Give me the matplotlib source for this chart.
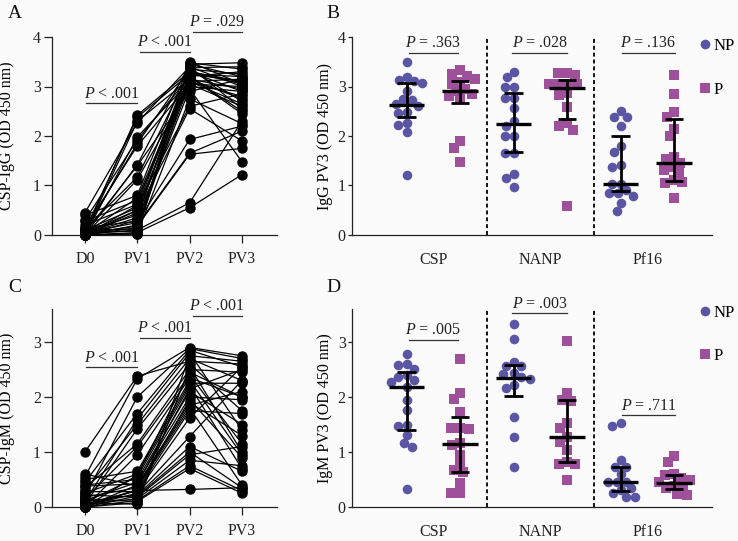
import numpy as np
import matplotlib
matplotlib.use("Agg")
import matplotlib.pyplot as plt
from matplotlib.lines import Line2D

plt.rcParams["font.family"] = ["Liberation Serif", "DejaVu Serif"]
plt.rcParams["mathtext.fontset"] = "custom"
plt.rcParams["mathtext.rm"] = "Liberation Serif"
plt.rcParams["mathtext.it"] = "Liberation Serif:italic"

BG = "#fbfbfc"
NP_COL = "#5a56a4"
P_COL = "#9e519a"

timepoints = ["D0", "PV1", "PV2", "PV3"]
antigens = ["CSP", "NANP", "Pf16"]

# panel A: CSP-IgG per subject
igg_d0 = [0.05, 0.10, 0.02, 0.45, 0.00, 0.30, 0.08, 0.15, 0.00, 0.05, 0.12, 0.00,
          0.40, 0.03, 0.28, 0.00, 0.10, 0.05, 0.00, 0.08, 0.02, 0.00, 0.15, 0.05,
          0.00, 0.03, 0.00, 0.10, 0.02, 0.00, 0.05, 0.00, 0.00, 0.20, 0.00]
igg_pv1 = [2.42, 2.38, 2.30, 2.27, 1.98, 1.92, 1.85, 1.80, 1.42, 1.40, 1.17, 1.12,
           0.80, 0.75, 0.70, 0.60, 0.55, 0.50, 0.45, 0.40, 0.35, 0.30, 0.28, 0.25,
           0.20, 0.18, 0.15, 0.12, 0.10, 0.05, 0.08, 0.03, 0.50, 0.62, 0.02]
igg_pv2 = [3.30, 3.25, 3.15, 3.40, 3.10, 3.20, 3.35, 3.05, 3.45, 2.90, 3.30, 3.00,
           3.48, 3.20, 3.10, 2.60, 3.35, 3.15, 2.55, 3.25, 3.40, 3.05, 2.95, 1.93,
           1.65, 1.63, 3.30, 3.45, 0.65, 0.55, 3.20, 2.75, 3.10, 3.38, 3.50]
igg_pv3 = [3.10, 3.20, 2.95, 3.00, 2.80, 3.30, 2.70, 2.60, 3.48, 3.15, 3.05, 2.90,
           3.35, 2.50, 2.65, 2.85, 3.25, 2.75, 1.90, 3.10, 2.55, 3.00, 1.48, 2.20,
           2.10, 1.75, 2.90, 3.20, 2.30, 1.22, 2.45, 2.25, 3.15, 3.40, 3.05]

# panel C: CSP-IgM per subject
igm_d0 = [1.00, 0.55, 0.20, 0.45, 0.10, 0.30, 0.05, 0.35, 0.15, 0.00, 0.50, 0.25,
          0.08, 0.40, 0.12, 0.00, 0.60, 0.18, 0.05, 0.28, 0.02, 0.10, 0.00, 0.22,
          0.05, 0.00, 0.15, 0.03, 0.00, 0.08, 0.00, 0.38, 0.00]
igm_pv1 = [2.38, 2.33, 2.00, 1.70, 1.60, 1.50, 1.42, 1.15, 1.10, 0.95, 0.65, 0.60,
           0.55, 0.50, 0.45, 0.40, 0.38, 0.35, 0.30, 0.28, 0.25, 0.22, 0.20, 0.18,
           0.15, 0.12, 0.10, 0.30, 0.08, 0.05, 0.58, 0.42, 0.32]
igm_pv2 = [2.65, 2.90, 2.88, 2.85, 2.80, 2.70, 2.60, 2.50, 2.40, 2.35, 2.30, 2.25,
           2.20, 2.10, 2.00, 1.90, 1.85, 1.80, 1.75, 1.62, 1.28, 1.10, 1.00, 0.95,
           0.85, 0.75, 0.70, 0.32, 2.75, 2.55, 2.45, 2.15, 1.95]
igm_pv3 = [2.60, 2.75, 2.70, 2.55, 1.40, 2.30, 1.75, 2.45, 1.15, 2.00, 0.95, 2.25,
           0.70, 1.50, 1.95, 1.30, 2.10, 0.40, 1.70, 2.55, 2.30, 0.65, 0.35, 1.10,
           0.75, 0.30, 0.25, 0.35, 2.65, 1.00, 2.00, 2.50, 0.90]

# panel B: IgG PV3 by antigen, NP vs P
igg_np = [
    [3.49, 3.20, 3.13, 3.11, 3.08, 2.90, 2.74, 2.73, 2.65, 2.60, 2.49, 2.46, 2.27, 2.22, 2.09, 1.21],
    [3.30, 3.19, 2.98, 2.98, 2.76, 2.76, 2.56, 2.30, 2.20, 1.99, 1.99, 1.65, 1.65, 1.23, 1.15, 0.96],
    [2.51, 2.39, 2.39, 2.20, 1.80, 1.68, 1.41, 1.38, 1.04, 1.04, 0.91, 0.85, 0.85, 0.79, 0.64, 0.48],
]
igg_p = [
    [3.33, 3.25, 3.22, 3.15, 3.10, 3.05, 2.95, 2.90, 2.85, 2.80, 2.74, 1.89, 1.76, 1.47],
    [3.27, 3.27, 3.23, 3.06, 3.06, 3.06, 3.06, 2.86, 2.83, 2.59, 2.26, 2.20, 2.12, 0.59],
    [3.23, 2.84, 2.48, 2.39, 2.15, 2.00, 1.57, 1.54, 1.45, 1.37, 1.31, 1.25, 1.11, 1.08, 1.06, 0.74],
]
igg_med = [2.63, 2.90, 2.24, 2.96, 1.04, 1.45]
igg_q1 = [2.38, 2.67, 1.67, 2.34, 0.89, 1.10]
igg_q3 = [3.08, 3.11, 2.86, 3.14, 2.00, 2.34]

# panel D: IgM PV3 by antigen, NP vs P
igm_np = [
    [2.79, 2.60, 2.58, 2.51, 2.40, 2.37, 2.31, 2.28, 2.18, 1.95, 1.76, 1.49, 1.47, 1.31, 1.16, 1.10, 0.32],
    [3.33, 3.05, 2.63, 2.57, 2.57, 2.44, 2.42, 2.37, 2.32, 2.22, 2.16, 1.64, 1.28, 0.73],
    [1.53, 1.48, 0.85, 0.73, 0.73, 0.60, 0.46, 0.46, 0.46, 0.34, 0.31, 0.25, 0.19, 0.19],
]
igm_p = [
    [2.70, 2.08, 1.96, 1.73, 1.43, 1.43, 1.41, 1.16, 1.13, 0.95, 0.79, 0.67, 0.64, 0.43, 0.25, 0.25],
    [3.02, 2.08, 1.95, 1.93, 1.53, 1.44, 1.27, 1.19, 1.04, 0.82, 0.79, 0.79, 0.49],
    [0.93, 0.81, 0.60, 0.58, 0.52, 0.49, 0.46, 0.38, 0.36, 0.34, 0.23, 0.22],
]
igm_med = [2.18, 1.14, 2.35, 1.28, 0.46, 0.44]
igm_q1 = [1.40, 0.64, 2.02, 0.81, 0.30, 0.32]
igm_q3 = [2.45, 1.64, 2.58, 1.95, 0.73, 0.58]

# p-value annotations: (x0, x1, y, text)
sig_a = [(0.02, 1.0, 2.66, "< .001"), (1.05, 2.0, 3.70, "< .001"), (2.06, 3.0, 4.11, "= .029")]
sig_c = [(0.02, 1.0, 2.54, "< .001"), (1.05, 2.0, 3.07, "< .001"), (2.06, 3.0, 3.47, "< .001")]
sig_b = [(0.04, 0.97, 3.68, "= .363"), (1.98, 3.0, 3.68, "= .028"), (4.03, 5.02, 3.68, "= .136")]
sig_d = [(0.04, 0.97, 3.04, "= .005"), (1.98, 3.0, 3.52, "= .003"), (4.03, 5.02, 1.67, "= .711")]

FS = 11.5


def style(ax):
    ax.set_facecolor(BG)
    for s in ["top", "right"]:
        ax.spines[s].set_visible(False)
    for s in ["left", "bottom"]:
        ax.spines[s].set_linewidth(0.9)
        ax.spines[s].set_color("#222222")
    ax.tick_params(labelsize=FS, width=0.9, length=5.5, pad=2.5, colors="#222222")


def sig(ax, items):
    for x0, x1, y, t in items:
        ax.plot([x0, x1], [y, y], color="#333333", lw=0.9, clip_on=False)
        ax.text((x0 + x1) / 2, y + 0.03, "$P$ " + t, ha="center", va="bottom",
                fontsize=FS, color="#222222", clip_on=False)


def paired(ax, cols, ymax, ylabel):
    style(ax)
    data = np.array(cols).T
    x = np.arange(len(timepoints))
    for row in data:
        ax.plot(x, row, color="black", lw=0.9, marker="o", ms=6.5, mec="black",
                mfc="black", clip_on=False, zorder=3)
    ax.set_xlim(-0.63, 3.67)
    ax.set_ylim(0, ymax)
    ax.set_xticks(x)
    ax.set_xticklabels(timepoints)
    ax.tick_params(axis="x", pad=6)
    ax.set_ylabel(ylabel, fontsize=FS)
    ax.yaxis.set_label_coords(-0.165, 0.5)


def swarm(vals, center, sx, sy, d):
    vals = np.asarray(vals, float)
    cands = np.arange(-40, 40.5, 0.5)
    cands = cands[np.argsort(np.abs(cands), kind="stable")]
    placed = []
    xs = np.zeros(len(vals))
    for i in np.argsort(-vals):
        y = vals[i] * sy
        for off in cands:
            if all((off - px) ** 2 + (y - py) ** 2 >= d * d for px, py in placed):
                break
        placed.append((off, y))
        xs[i] = center + off / sx
    return xs


def grouped(ax, np_vals, p_vals, med, q1, q3, ymax, ysc, ylabel, ticks):
    style(ax)
    ax.tick_params(axis="y", length=3, pad=1.5)
    sx = 53.8
    for g in range(3):
        xn = swarm(np_vals[g], 2 * g, sx, ysc, 8.6)
        ax.scatter(xn, np_vals[g], s=48, marker="o", color=NP_COL, lw=0, zorder=2, clip_on=False)
        xp = swarm(p_vals[g], 2 * g + 1, sx, ysc, 8.6)
        ax.scatter(xp, p_vals[g], s=48, marker="s", color=P_COL, lw=0, zorder=2, clip_on=False)
    pos = np.arange(6)
    ax.hlines(med, pos - 0.33, pos + 0.33, color="black", lw=2.4, zorder=4)
    ax.vlines(pos, q1, q3, color="black", lw=2.0, zorder=4)
    ax.hlines(q1, pos - 0.17, pos + 0.17, color="black", lw=2.0, zorder=4)
    ax.hlines(q3, pos - 0.17, pos + 0.17, color="black", lw=2.0, zorder=4)
    for xv in [1.5, 3.5]:
        ax.axvline(xv, color="black", lw=1.3, ls=(0, (2.2, 1.6)), zorder=1)
    ax.set_xlim(-1.02, 5.71)
    ax.set_ylim(0, ymax)
    ax.set_yticks(ticks)
    ax.set_xticks([0.5, 2.5, 4.5])
    ax.set_xticklabels(antigens)
    ax.tick_params(axis="x", length=0, pad=12)
    ax.set_ylabel(ylabel, fontsize=FS)
    ax.yaxis.set_label_coords(-0.052, 0.5)


fig = plt.figure(figsize=(7.38, 5.41), dpi=100, facecolor=BG)
W, H = 738, 541
h = 198 / H
axA = fig.add_axes([52 / W, 1 - 235 / H, 225 / W, h])
axB = fig.add_axes([352 / W, 1 - 235 / H, 360 / W, h])
axC = fig.add_axes([52 / W, 1 - 507 / H, 225 / W, h])
axD = fig.add_axes([352 / W, 1 - 507 / H, 360 / W, h])

paired(axA, [igg_d0, igg_pv1, igg_pv2, igg_pv3], 4, "CSP-IgG (OD 450 nm)")
axA.set_yticks([0, 1, 2, 3, 4])
sig(axA, sig_a)

paired(axC, [igm_d0, igm_pv1, igm_pv2, igm_pv3], 3.6, "CSP-IgM (OD 450 nm)")
axC.set_yticks([0, 1, 2, 3])
sig(axC, sig_c)

grouped(axB, igg_np, igg_p, igg_med, igg_q1, igg_q3, 4, 49.5, "IgG PV3 (OD 450 nm)", [0, 1, 2, 3, 4])
sig(axB, sig_b)
grouped(axD, igm_np, igm_p, igm_med, igm_q1, igm_q3, 3.6, 55, "IgM PV3 (OD 450 nm)", [0, 1, 2, 3])
sig(axD, sig_d)

handles = [Line2D([], [], ls="", marker="o", ms=7, color=NP_COL, mew=0),
           Line2D([], [], ls="", marker="s", ms=7, color=P_COL, mew=0)]
for top, spacing in [(38, 1.7), (305, 1.6)]:
    fig.legend(handles, ["NP", "P"], loc="upper left", bbox_to_anchor=(698 / W, 1 - top / H),
               frameon=False, fontsize=FS + 0.5, handlelength=0.8, handletextpad=0.15,
               labelspacing=spacing, borderpad=0, borderaxespad=0)

for lab, x, y in [("A", 8, 14), ("B", 326, 14), ("C", 8, 287), ("D", 326, 287)]:
    fig.text(x / W, 1 - y / H, lab, fontsize=14, ha="left", va="center", color="#111111")

fig.savefig("out.png", dpi=100, facecolor=BG)
